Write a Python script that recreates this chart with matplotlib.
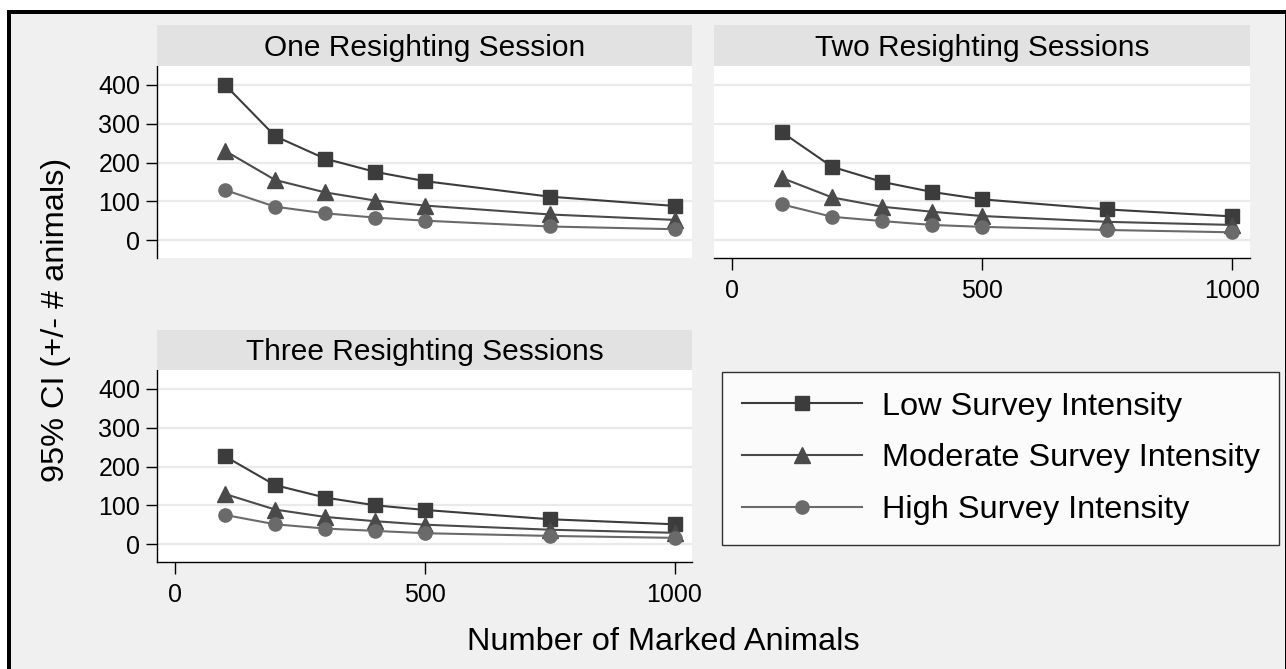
import matplotlib
matplotlib.use('Agg')
import matplotlib.pyplot as plt
from matplotlib.patches import Rectangle

plt.rcParams['font.family'] = ['Liberation Sans', 'DejaVu Sans']

# ---------------- data ----------------
marked = [100, 200, 300, 400, 500, 750, 1000]
panel_titles = ['One Resighting Session', 'Two Resighting Sessions', 'Three Resighting Sessions']
series_names = ['Low Survey Intensity', 'Moderate Survey Intensity', 'High Survey Intensity']

one_low = [400, 268, 210, 176, 152, 112, 88]
one_mod = [230, 155, 123, 102, 89, 66, 52]
one_high = [129, 86, 69, 58, 50, 35, 28]

two_low = [278, 189, 150, 124, 105, 79, 61]
two_mod = [160, 110, 86, 73, 62, 47, 39]
two_high = [92, 60, 49, 39, 34, 26, 20]

three_low = [226, 152, 120, 100, 88, 64, 51]
three_mod = [129, 89, 70, 59, 50, 37, 29]
three_high = [75, 51, 40, 34, 28, 21, 16]

yticks = [0, 100, 200, 300, 400]
xticks = [0, 500, 1000]
xlabel = 'Number of Marked Animals'
ylabel = '95% CI (+/- # animals)'

# ---------------- styling ----------------
W, H = 1286, 669
DPI = 100
colors = ['#3c3c3c', '#4a4a4a', '#6a6a6a']
markers = ['s', '^', 'o']
msizes = [10, 11, 9.5]
BG = '#F0F0F0'
STRIP = '#E2E2E2'
GRID = '#EAEAEA'


def rect(x0, y0, x1, y1):
    return [x0 / W, 1 - y1 / H, (x1 - x0) / W, (y1 - y0) / H]


fig = plt.figure(figsize=(W / DPI, H / DPI), dpi=DPI, facecolor='white')

frame = Rectangle((9 / W, 1 - 672 / H), (1287 - 9) / W, (672 - 12) / H,
                  transform=fig.transFigure, facecolor=BG, edgecolor='black',
                  linewidth=4 * 72 / DPI, zorder=-5)
fig.patches.append(frame)

panel_data = [
    (one_low, one_mod, one_high),
    (two_low, two_mod, two_high),
    (three_low, three_mod, three_high),
]
# (axes rect px, strip rect px, show_y, show_x)
layout = [
    ((157.3, 66, 692, 257.7), (157.3, 25, 692, 66), True, False),
    ((714, 66, 1250, 257.7), (714, 25, 1250, 66), False, True),
    ((157.3, 370, 692, 561.7), (157.3, 330, 692, 370), True, True),
]

handles = []
for i, ((a, s, showy, showx), data) in enumerate(zip(layout, panel_data)):
    ax = fig.add_axes(rect(*a))
    ax.set_facecolor('white')
    ax.set_xlim(-36, 1035)
    ax.set_ylim(-45.5, 449)
    ax.set_axisbelow(True)
    ax.yaxis.grid(True, color=GRID, linewidth=1.6)
    ax.xaxis.grid(False)
    for sp in ['top', 'right']:
        ax.spines[sp].set_visible(False)
    ax.spines['left'].set_visible(showy)
    ax.spines['bottom'].set_visible(showx)
    for sp in ['left', 'bottom']:
        ax.spines[sp].set_linewidth(1.0)
        ax.spines[sp].set_color('black')
    ax.set_yticks(yticks)
    ax.set_xticks(xticks)
    ax.tick_params(axis='y', left=showy, labelleft=showy, length=8, width=1.0,
                   pad=4.3, labelsize=18, direction='out')
    ax.tick_params(axis='x', bottom=showx, labelbottom=showx, length=8.5, width=1.0,
                   pad=6.5, labelsize=18, direction='out')
    for vals, c, m, ms in zip(data, colors, markers, msizes):
        ln, = ax.plot(marked, vals, color=c, linewidth=1.5, marker=m, markersize=ms,
                      markerfacecolor=c, markeredgecolor=c, clip_on=False)
        if i == 0:
            handles.append(ln)

    sax = fig.add_axes(rect(*s))
    sax.set_facecolor(STRIP)
    sax.set_xticks([])
    sax.set_yticks([])
    for sp in sax.spines.values():
        sp.set_visible(False)
    baseline_px = s[3] - 10.5
    fig.text((s[0] + s[2]) / 2 / W, 1 - baseline_px / H, panel_titles[i],
             ha='center', va='baseline', fontsize=21.5, color='black')

fig.text(663 / W, 1 - 650 / H, xlabel, ha='center', va='baseline', fontsize=23.4)
fig.text(55.6 / W, 1 - 320 / H, ylabel, ha='center', va='center',
         rotation=90, fontsize=23.4)

leg = fig.legend(handles, series_names, loc='upper left',
                 bbox_to_anchor=(722 / W, 1 - 372 / H), bbox_transform=fig.transFigure,
                 borderaxespad=0, frameon=True, fancybox=False, fontsize=23.4,
                 handlelength=3.7, handletextpad=0.62, borderpad=0.6,
                 labelspacing=0.67, markerscale=1.0)
leg.get_frame().set_edgecolor('black')
leg.get_frame().set_linewidth(1.0)
leg.get_frame().set_facecolor('white')

fig.savefig('out.png', dpi=DPI, facecolor='white')
